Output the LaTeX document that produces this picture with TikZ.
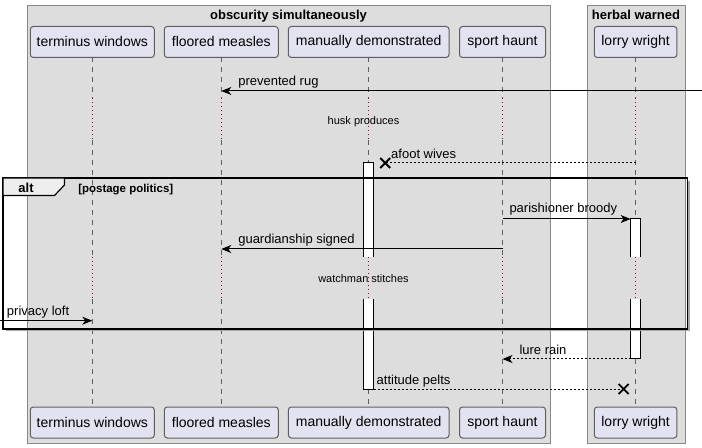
\documentclass[tikz,border=0pt]{standalone}
\usepackage{fontspec}
\setmainfont{Liberation Sans}
\usetikzlibrary{arrows.meta,calc}
\definecolor{boxbg}{HTML}{DDDDDD}
\definecolor{boxline}{HTML}{888888}
\definecolor{partfill}{HTML}{E2E2F0}
\definecolor{partline}{HTML}{5E5E5E}
\definecolor{lifecol}{HTML}{5E5E5E}
\definecolor{delaycol}{HTML}{A80036}
\definecolor{tabfill}{HTML}{EEEEEE}
\definecolor{shadowcol}{HTML}{A8A8A8}
\begin{document}
\begin{tikzpicture}[x=0.75pt,y=-0.75pt,
  every node/.style={inner sep=0pt, outer sep=0pt},
  part/.style={draw=partline, fill=partfill, rounded corners=2.25pt, minimum height=23.25pt, line width=0.75pt, font=\fontsize{10.5}{12}\selectfont, text=black},
  grp/.style={draw=boxline, fill=boxbg, line width=0.75pt},
  grptitle/.style={font=\bfseries\fontsize{9.75}{11}\selectfont, anchor=base},
  life/.style={draw=lifecol, line width=0.6pt, dash pattern=on 3.75pt off 3.75pt},
  delayline/.style={draw=delaycol, line width=0.6pt, dash pattern=on 0.75pt off 2.25pt},
  delaytxt/.style={font=\fontsize{8.25}{10}\selectfont, anchor=base},
  msg/.style={draw=black, line width=0.75pt, -{Stealth[length=7.5pt,width=6pt,inset=2.2pt]}},
  rmsg/.style={msg, dash pattern=on 1.5pt off 1.5pt},
  lost/.style={draw=black, line width=0.75pt, dash pattern=on 1.5pt off 1.5pt},
  lbl/.style={font=\fontsize{9.75}{11}\selectfont, anchor=base west},
  actbar/.style={fill=white, minimum width=7.5pt, anchor=north},
  actline/.style={draw=black, line width=0.75pt},
  xmark/.style={draw=black, line width=1.4pt},
  altframe/.style={draw=black, line width=1.3pt},
]
\useasboundingbox (0,0) rectangle (702,448);
\fill[white] (0,0) rectangle (702,448);

% groups
\draw[grp] (27,6) rectangle (550,443);
\draw[grp] (587,6) rectangle (685.5,443);
\node[grptitle] (g1) at (288.5,20) {obscurity simultaneously};
\node[grptitle] (g2) at (636,20) {herbal warned};

% participants
\node[part, minimum width=93pt] (tw) at (92.3,42) {terminus windows};
\node[part, minimum width=85.5pt] (fm) at (221.3,42) {floored measles};
\node[part, minimum width=120.5pt] (md) at (368.7,42) {manually demonstrated};
\node[part, minimum width=64.5pt] (sh) at (502.5,42) {sport haunt};
\node[part, minimum width=62pt] (lw) at (635.6,42) {lorry wright};
\node[part, minimum width=93pt] (tw-b) at (92.3,422.5) {terminus windows};
\node[part, minimum width=85.5pt] (fm-b) at (221.3,422.5) {floored measles};
\node[part, minimum width=120.5pt] (md-b) at (368.7,422.5) {manually demonstrated};
\node[part, minimum width=64.5pt] (sh-b) at (502.5,422.5) {sport haunt};
\node[part, minimum width=62pt] (lw-b) at (635.6,422.5) {lorry wright};

% lifelines with delays
\coordinate (d1a) at (0,98);
\coordinate (d1b) at (0,140);
\coordinate (d2a) at (0,257);
\coordinate (d2b) at (0,299);
\foreach \p in {tw,fm,md,sh,lw} {
  \draw[life] (\p.south) -- (\p.south |- d1a);
  \draw[delayline] (\p.south |- d1a) -- (\p.south |- d1b);
  \draw[life] (\p.south |- d1b) -- (\p.south |- d2a);
  \draw[delayline] (\p.south |- d2a) -- (\p.south |- d2b);
  \draw[life] (\p.south |- d2b) -- (\p-b.north);
}

% activation bars
\coordinate (a1) at (0,163);
\coordinate (a3) at (0,219);
\node[actbar, minimum height=70.5pt] (mdA1) at (md.south |- a1) {};
\node[actbar, minimum height=67.5pt] (mdA2) at (md.south |- d2b) {};
\node[actbar, minimum height=28.5pt] (lwA1) at (lw.south |- a3) {};
\node[actbar, minimum height=45pt] (lwA2) at (lw.south |- d2b) {};
\draw[actline] (mdA1.south west) -- (mdA1.north west) -- (mdA1.north east) -- (mdA1.south east);
\draw[actline] (mdA2.north west) -- (mdA2.south west) -- (mdA2.south east) -- (mdA2.north east);
\draw[actline] (lwA1.south west) -- (lwA1.north west) -- (lwA1.north east) -- (lwA1.south east);
\draw[actline] (lwA2.north west) -- (lwA2.south west) -- (lwA2.south east) -- (lwA2.north east);

% alt frame
\draw[shadowcol, line width=1.1pt] (689,181) -- (689,330.6) -- (6,330.6);
\draw[altframe] (3,178) rectangle (687.5,329);
\draw[fill=tabfill, draw=black, line width=0.9pt] (3,178) -- (64.5,178) -- (64.5,185) -- (54.5,195.5) -- (3,195.5) -- cycle;
\node[font=\bfseries\fontsize{9.75}{11}\selectfont, anchor=base] (alt) at (26,192.7) {alt};
\node[font=\bfseries\fontsize{8.6}{10}\selectfont, anchor=base west] (guard) at (78.3,192.3) {[postage politics]};

% messages
\coordinate (e1) at (702,91);
\draw[msg] (e1) -- (fm.south |- e1);
\node[lbl] at ($(fm.south |- e1)+(17,-5)$) {prevented rug};

\node[delaytxt] (dt1) at (363.5,124.5) {husk produces};

\coordinate (x1) at ($(mdA1.north east)+(11.5,0)$);
\draw[lost] (lw.south |- x1) -- (x1);
\draw[xmark] ($(x1)+(-5,-5)$) -- ($(x1)+(5,5)$) ($(x1)+(-5,5)$) -- ($(x1)+(5,-5)$);
\node[lbl] at ($(x1)+(6,-4)$) {afoot wives};

\draw[msg] (sh.south |- lwA1.north) -- (lwA1.north west);
\node[lbl] at ($(sh.south |- lwA1.north)+(7,-6)$) {parishioner broody};

\coordinate (m4) at (0,249);
\draw[msg] (sh.south |- m4) -- (fm.south |- m4);
\node[lbl] at ($(fm.south |- m4)+(17,-5)$) {guardianship signed};

\node[delaytxt] (dt2) at (363.5,283) {watchman stitches};

\coordinate (e5) at (0,320.7);
\draw[msg] (e5) -- (tw.south |- e5);
\node[lbl] at ($(e5)+(7,-5)$) {privacy loft};

\draw[rmsg] (lwA2.south west) -- (sh.south |- lwA2.south);
\node[lbl] at ($(sh.south |- lwA2.south)+(17,-5)$) {lure rain};

\coordinate (x2) at ($(lw.south |- mdA2.south)+(-12,0)$);
\draw[lost] (mdA2.south east) -- (x2);
\draw[xmark] ($(x2)+(-5,-5)$) -- ($(x2)+(5,5)$) ($(x2)+(-5,5)$) -- ($(x2)+(5,-5)$);
\node[lbl] at ($(mdA2.south east)+(3,-5)$) {attitude pelts};
\end{tikzpicture}
\end{document}
